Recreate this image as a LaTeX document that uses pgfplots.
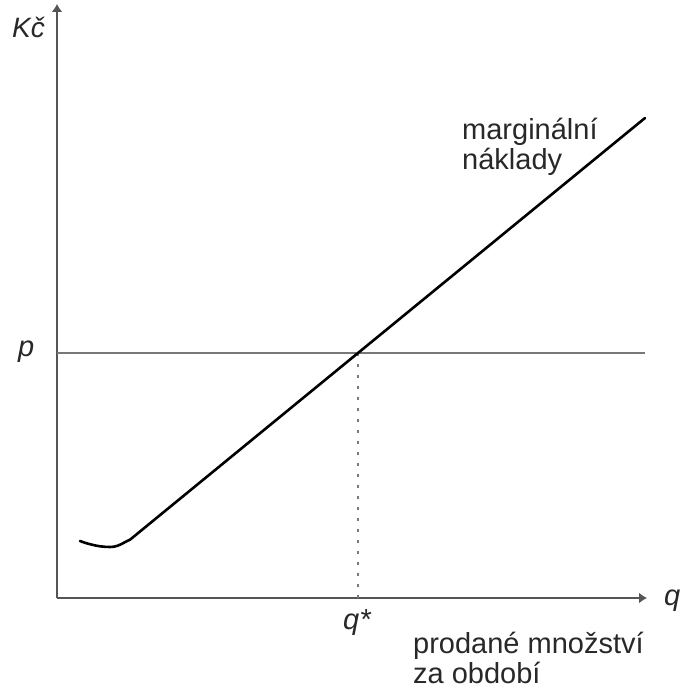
\documentclass[border=0pt]{standalone}
\usepackage{pgfplots}
\pgfplotsset{compat=1.18}
\usetikzlibrary{arrows.meta}
\usepackage{fontspec}
\setmainfont{Liberation Sans}
\definecolor{axgray}{RGB}{85,85,85}
\definecolor{pgray}{RGB}{120,120,120}
\definecolor{txt}{RGB}{40,40,40}
\tikzset{lbl/.style={font=\fontsize{29}{30}\selectfont, text=txt, inner sep=0pt, anchor=base west}}
\begin{document}
\begin{tikzpicture}
\begin{axis}[
  x=1pt, y=1pt,
  xmin=57, xmax=647, ymin=90, ymax=684,
  axis lines=left,
  axis line style={line width=1.6pt, axgray},
  every outer x axis line/.append style={-{Latex[length=8pt,width=11pt]}},
  every outer y axis line/.append style={-{Latex[length=8pt,width=11pt]}},
  xtick=\empty, ytick=\empty,
  clip=false,
]
% invisible frame of the full picture
\path (axis cs:0,0) rectangle (axis cs:688,688);
% price line p
\addplot[pgray, line width=1.4pt] coordinates {(57,335) (645,335)};
% dotted line at q*
\addplot[pgray, line width=1.4pt, dash pattern=on 3pt off 8pt] coordinates {(358,90) (358,335)};
% marginal cost curve
\addplot[black, line width=2.6pt, line join=round, line cap=round] coordinates {
 (80,147) (85,145.2) (90,143.8) (95,142.6) (100,141.7) (105,141.2) (110,141.0) (114,141.3) (118,142.4) (122,144.2) (126,146.4) (130,148.3) (358,335) (645,570)};
% labels
\node[lbl, font=\fontsize{28}{30}\selectfont] at (axis cs:12,650) {\textit{Kč}};
\node[lbl] at (axis cs:18,331) {\textit{p}};
\node[lbl] at (axis cs:664,83) {\textit{q}};
\node[lbl] at (axis cs:343,59) {\textit{q*}};
\node[lbl, align=left] at (axis cs:462,518) {marginální\\náklady};
\node[lbl, align=left] at (axis cs:413,5) {prodané množství\\za období};
\end{axis}
\end{tikzpicture}
\end{document}
